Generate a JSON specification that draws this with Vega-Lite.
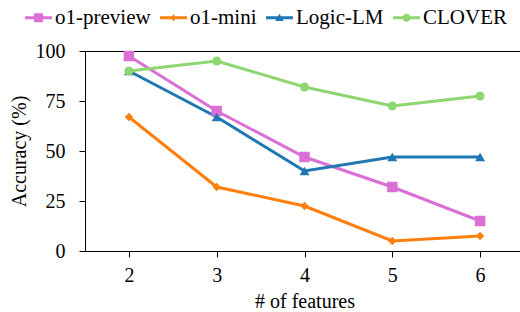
{
  "$schema": "https://vega.github.io/schema/vega-lite/v6.json",
  "width": 439,
  "height": 200,
  "autosize": "none",
  "padding": {"left": 85, "top": 51, "right": 0, "bottom": 61},
  "background": "white",
  "config": {
    "font": "Liberation Serif, Times New Roman, serif",
    "view": {"stroke": "black", "strokeWidth": 1},
    "axis": {
      "grid": false,
      "domainColor": "black",
      "tickColor": "black",
      "labelColor": "black",
      "titleColor": "black",
      "labelFont": "Liberation Serif, Times New Roman, serif",
      "titleFont": "Liberation Serif, Times New Roman, serif",
      "labelFontSize": 20,
      "titleFontSize": 20,
      "titleFontWeight": "normal",
      "tickSize": 6
    },
    "legend": {"labelFont": "Liberation Serif, Times New Roman, serif"}
  },
  "data": {
    "values": [
      {"model": "o1-preview", "features": 2, "acc": 97.5},
      {"model": "o1-preview", "features": 3, "acc": 70},
      {"model": "o1-preview", "features": 4, "acc": 47},
      {"model": "o1-preview", "features": 5, "acc": 32},
      {"model": "o1-preview", "features": 6, "acc": 15},
      {"model": "o1-mini", "features": 2, "acc": 67},
      {"model": "o1-mini", "features": 3, "acc": 32},
      {"model": "o1-mini", "features": 4, "acc": 22.5},
      {"model": "o1-mini", "features": 5, "acc": 5},
      {"model": "o1-mini", "features": 6, "acc": 7.5},
      {"model": "Logic-LM", "features": 2, "acc": 90},
      {"model": "Logic-LM", "features": 3, "acc": 67},
      {"model": "Logic-LM", "features": 4, "acc": 40},
      {"model": "Logic-LM", "features": 5, "acc": 47},
      {"model": "Logic-LM", "features": 6, "acc": 47},
      {"model": "CLOVER", "features": 2, "acc": 90},
      {"model": "CLOVER", "features": 3, "acc": 95},
      {"model": "CLOVER", "features": 4, "acc": 82},
      {"model": "CLOVER", "features": 5, "acc": 72.5},
      {"model": "CLOVER", "features": 6, "acc": 77.5}
    ]
  },
  "encoding": {
    "x": {
      "field": "features", "type": "quantitative",
      "scale": {"domain": [1.5, 6.5], "nice": false, "zero": false},
      "axis": {"values": [2, 3, 4, 5, 6], "format": "d", "title": "# of features", "labelPadding": 8, "titlePadding": 6}
    },
    "y": {
      "field": "acc", "type": "quantitative",
      "scale": {"domain": [0, 100], "nice": false},
      "axis": {"values": [0, 25, 50, 75, 100], "title": "Accuracy (%)", "labelPadding": 14, "titlePadding": 6}
    },
    "color": {
      "field": "model", "type": "nominal",
      "scale": {
        "domain": ["o1-preview", "o1-mini", "Logic-LM", "CLOVER"],
        "range": ["#da70d6", "#ff7f0e", "#1f77b4", "#8fd570"]
      },
      "legend": {
        "title": null,
        "orient": "none",
        "direction": "horizontal",
        "legendX": -60,
        "legendY": -47,
        "symbolSize": 729,
        "labelFontSize": 21,
        "labelColor": "black",
        "labelOffset": 3,
        "columnPadding": 9,
        "encode": {
          "symbols": {
            "update": {
              "shape": {"signal": "datum.value === 'o1-preview' ? 'M-1,-0.11H1V0.11H-1Z M-0.33,-0.33H0.33V0.33H-0.33Z' : datum.value === 'o1-mini' ? 'M-1,-0.11H1V0.11H-1Z M0,-0.26L0.2,0L0,0.26L-0.2,0Z' : datum.value === 'Logic-LM' ? 'M-1,-0.11H1V0.11H-1Z M0,-0.3L0.32,0.24L-0.32,0.24Z' : 'M-1,-0.11H1V0.11H-1Z M-0.3,0A0.3,0.3 0 1,1 0.3,0A0.3,0.3 0 1,1 -0.3,0Z'"},
              "size": {"value": 729},
              "fill": {"scale": "color", "field": "value"},
              "fillOpacity": {"value": 1},
              "strokeWidth": {"value": 0},
              "stroke": {"value": "transparent"}
            }
          }
        }
      }
    }
  },
  "layer": [
    {
      "mark": {"type": "line", "strokeWidth": 3, "clip": false}
    },
    {
      "transform": [{"filter": "datum.model === 'o1-preview'"}],
      "mark": {"type": "point", "shape": "square", "size": 110, "filled": true, "opacity": 1, "clip": false}
    },
    {
      "transform": [{"filter": "datum.model === 'o1-mini'"}],
      "mark": {"type": "point", "shape": "diamond", "size": 70, "filled": true, "opacity": 1, "clip": false}
    },
    {
      "transform": [{"filter": "datum.model === 'Logic-LM'"}],
      "mark": {"type": "point", "shape": "triangle-up", "size": 100, "filled": true, "opacity": 1, "clip": false}
    },
    {
      "transform": [{"filter": "datum.model === 'CLOVER'"}],
      "mark": {"type": "point", "shape": "circle", "size": 80, "filled": true, "opacity": 1, "clip": false}
    }
  ]
}
